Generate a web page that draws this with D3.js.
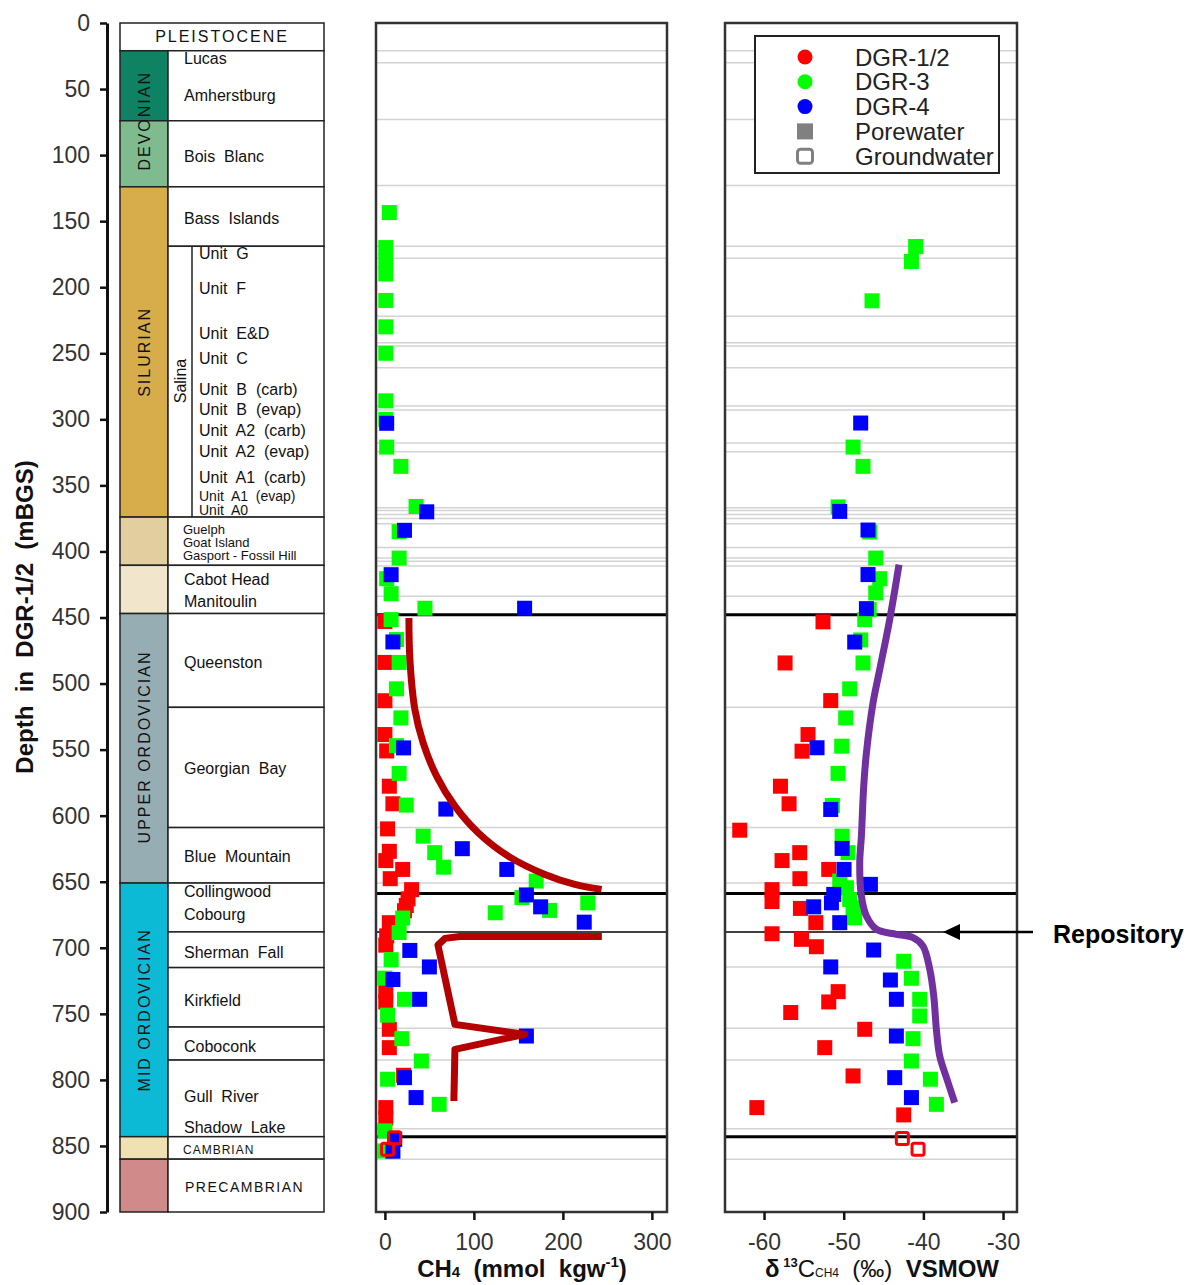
<!DOCTYPE html>
<html>
<head>
<meta charset="utf-8">
<script src="https://cdn.jsdelivr.net/npm/d3@7"></script>
<style>
  body { margin: 0; background: #fff; }
  text { font-family: "Liberation Sans", Arial, sans-serif; white-space: pre; }
</style>
</head>
<body>
<svg id="chart" width="1188" height="1285"></svg>
<script>
// ---- data ----
const depthTicks = [0, 50, 100, 150, 200, 250, 300, 350, 400, 450, 500, 550, 600, 650, 700, 750, 800, 850, 900];
const ch4Ticks = [0, 100, 200, 300];
const d13cTicks = [-60, -50, -40, -30];

// stratigraphic column (depth in m)
const eraTops    = [21, 74, 124, 374, 410.5, 447, 651, 843, 860];
const eraBottoms = [74, 124, 374, 410.5, 447, 651, 843, 860, 900];
const eraColors  = ["#0e8262", "#7fbb8f", "#d6ad4a", "#e3cea0", "#f1e5cc", "#96adb4", "#0dbad6", "#efe1b1", "#d08a8a"];
const eraNames   = ["DEVONIAN", "SILURIAN", "UPPER ORDOVICIAN", "MID ORDOVICIAN"];
const eraNameDepths = [74, 249, 548, 747];
const formationBounds = [21, 74, 124, 169, 374, 410.5, 447, 518, 609, 651, 688, 715, 760, 785, 843, 860, 900];
const formationNames = ["Lucas", "Amherstburg", "Bois  Blanc", "Bass  Islands", "Cabot Head", "Manitoulin",
  "Queenston", "Georgian  Bay", "Blue  Mountain", "Collingwood", "Cobourg", "Sherman  Fall", "Kirkfield",
  "Coboconk", "Gull  River", "Shadow  Lake"];
const formationDepths = [26.5, 54.5, 100.6, 147.5, 421.3, 438, 484, 564.3, 630.9, 657, 674.7, 703.2, 739.8, 774.4, 812.2, 835.9];
const smallNames = ["Guelph", "Goat Island", "Gasport - Fossil Hill"];
const smallDepths = [383.2, 393.3, 403];
const salinaUnits = ["Unit  G", "Unit  F", "Unit  E&D", "Unit  C", "Unit  B  (carb)", "Unit  B  (evap)",
  "Unit  A2  (carb)", "Unit  A2  (evap)", "Unit  A1  (carb)", "Unit  A1  (evap)", "Unit  A0"];
const salinaDepths = [174, 200.5, 234.5, 254, 277, 292.7, 307.9, 324.3, 344.2, 358.3, 368.6];

// boundaries shown in the data panels
const greyLines = [21, 30, 73, 123, 169, 178, 222, 242, 244.5, 261, 290, 293, 318, 324.5, 367, 369, 372, 375, 379,
  397, 405, 407.5, 411, 434, 518, 609, 651, 714.5, 761, 785, 837, 860];
const blackLines = [448, 659, 688, 843];

// CH4 (mmol/kgw) porewater: [depth, value]
const ch4Dgr12 = [[453, 0], [484, 0], [513, 0], [538.6, 0], [551, 2], [577.7, 5], [591, 9], [610, 3], [627, 5],
  [634, 1], [640.7, 20], [647.7, 6], [656, 30], [663, 26], [668, 24], [672, 22], [681, 5], [691, 2], [698, 1],
  [733, 1], [741, 1], [761.7, 5], [775.6, 5], [796.5, 21], [821, 1], [829, 1]];
const ch4Dgr3 = [[143.5, 5], [170, 1], [180, 1], [190, 1], [210, 1], [230, 1], [250, 1], [286, 1], [300, 1], [321, 2],
  [335.6, 18], [366, 35], [385, 16], [405, 16], [420.6, 2], [432, 7], [443, 45], [451.6, 7], [466.7, 13], [484, 16],
  [504, 13], [526, 18], [547, 13], [568, 16], [592, 24], [615.5, 43], [628, 56], [639, 66], [649.5, 170], [662, 154],
  [666, 228], [671.7, 185], [673.5, 124], [677.5, 20], [688.5, 16], [709, 7], [723, 0], [739, 22], [751, 3],
  [768.8, 19], [785.7, 41], [799.5, 3], [818.5, 61], [838.6, 0], [853.8, 0]];
const ch4Dgr4 = [[303, 2], [370, 47], [384, 22], [417.6, 7], [443, 157], [468.5, 9], [548.7, 21], [595, 68.5],
  [625, 87], [640.7, 137], [660, 159], [669, 175], [680.6, 224], [702, 28], [714.5, 50], [724, 9], [739, 39],
  [766.8, 159], [798.3, 22], [813.4, 35], [845, 11], [854, 9]];
const ch4Ground = [[843.8, 11], [852.5, 3]];

// d13C-CH4 (permil) porewater: [depth, value]
const d13Dgr12 = [[453.3, -52.6], [484.4, -57.36], [512.9, -51.63], [538.6, -54.48], [551.2, -55.23], [577.7, -57.94],
  [591, -56.86], [611, -63.05], [628, -55.52], [634, -57.74], [640.7, -51.88], [647.7, -55.5], [656, -59], [665, -59],
  [670.2, -55.43], [681, -53.5], [689.4, -59], [693.6, -55.3], [699.2, -53.43], [733.2, -50.7], [741, -51.88],
  [749, -56.65], [761.7, -47.36], [775.6, -52.38], [797, -48.83], [821, -60.9], [826.5, -42.47]];
const d13Dgr3 = [[169.2, -40.97], [180.5, -41.5], [210.3, -46.45], [321, -48.83], [335.6, -47.58], [366.3, -50.7],
  [385.3, -46.74], [405, -45.98], [420.6, -45.48], [431.4, -45.98], [444, -46.8], [451.6, -47.36], [467, -47.87],
  [484.4, -47.58], [504, -49.25], [526, -49.75], [547.4, -50.25], [568, -50.71], [592.3, -51.42], [615.5, -50.2],
  [628, -49.46], [649.5, -50.5], [654.6, -49.66], [663.4, -49.25], [669.7, -48.83], [677.3, -48.62], [710.2, -42.47],
  [723.1, -41.5], [739, -40.46], [751.6, -40.46], [768.8, -41.3], [785.7, -41.5], [799.5, -39.12], [818.5, -38.37]];
const d13Dgr4 = [[302.8, -47.87], [369.7, -50.5], [383.8, -46.95], [417.5, -46.95], [443.3, -47.15], [468.6, -48.62],
  [548.6, -53.35], [595.3, -51.63], [624.8, -50.2], [640.7, -49.96], [652, -46.65], [659.6, -51.25], [666, -51.54],
  [669, -53.77], [681, -50.5], [701.7, -46.24], [714.5, -51.63], [724.4, -44.14], [739, -43.39], [766.8, -43.39],
  [798.3, -43.6], [813.4, -41.5]];
const d13Ground = [[844.4, -42.64], [852.5, -40.67]];

// hand-drawn interpretation curves: [depth, value]
const ch4CurveUpper = [[450.3, 27], [481.8, 28.1], [519.7, 33.7], [544.9, 43], [570.1, 58.1], [592.8, 78.7],
  [612.9, 104.8], [630.6, 138.5], [644.5, 179.8], [652, 213.5], [655.8, 243.5]];
const ch4CurveLower = [[691.4, 243.8], [691.4, 84.3], [692.9, 67.4], [698, 59.6], [758, 78.7], [765.5, 157.3],
  [776.9, 78.7], [816, 77.5]];
const d13Curve = [[410, -43.06], [451.6, -44.23], [489.4, -45.48], [514.6, -46.32], [552.4, -47.15], [577.7, -47.49],
  [615.5, -47.78], [635.6, -47.99], [660.9, -47.78], [676, -47.15], [686, -45.9], [689.8, -43.39], [692.3, -41.3],
  [698.7, -40.05], [716.3, -39.2], [736.5, -38.7], [761.7, -38.37], [781.9, -37.95], [799.5, -37.04], [817.2, -36.07]];

const legendNames = ["DGR-1/2", "DGR-3", "DGR-4", "Porewater", "Groundwater"];

// ---- drawing ----
const svg = d3.select("#chart");
const y = d3.scaleLinear().domain([0, 900]).range([23, 1212]);
const xCh4 = d3.scaleLinear().domain([-10, 317]).range([376, 667]);
const xD13 = d3.scaleLinear().domain([-64.9, -28.25]).range([725, 1017]);
const sq = 15;

// depth axis
const yAxis = svg.append("g")
  .attr("transform", "translate(107,0)")
  .call(d3.axisLeft(y).tickValues(depthTicks).tickSize(7).tickSizeOuter(0).tickPadding(10)
    .tickFormat(d => String(d)));
yAxis.select(".domain").attr("stroke", "#111").attr("stroke-width", 3);
yAxis.selectAll(".tick line").attr("stroke", "#111").attr("stroke-width", 2.5);
yAxis.selectAll("text").attr("font-size", 23).attr("fill", "#333")
  .attr("font-family", "Liberation Sans, Arial, sans-serif");

svg.append("text")
  .attr("transform", "translate(33,617) rotate(-90)")
  .attr("text-anchor", "middle")
  .attr("font-size", 24).attr("font-weight", "bold").attr("fill", "#111")
  .text("Depth  in  DGR-1/2  (mBGS)");

// stratigraphic column
const colL = 120, eraR = 168, colR = 324, salX = 192;
const col = svg.append("g");
col.append("rect").attr("x", colL).attr("y", y(0)).attr("width", colR - colL).attr("height", y(21) - y(0))
  .attr("fill", "#fff").attr("stroke", "#222").attr("stroke-width", 1.5);
col.selectAll(".era").data(eraTops).enter().append("rect")
  .attr("x", colL).attr("y", d => y(d))
  .attr("width", eraR - colL)
  .attr("height", (d, i) => y(eraBottoms[i]) - y(d))
  .attr("fill", (d, i) => eraColors[i]).attr("stroke", "#222").attr("stroke-width", 1.5);
col.selectAll(".form").data(formationBounds.slice(0, -1)).enter().append("rect")
  .attr("x", eraR).attr("y", d => y(d))
  .attr("width", colR - eraR)
  .attr("height", (d, i) => y(formationBounds[i + 1]) - y(d))
  .attr("fill", "#fff").attr("stroke", "#222").attr("stroke-width", 1.5);
col.append("line").attr("x1", salX).attr("x2", salX).attr("y1", y(169)).attr("y2", y(374))
  .attr("stroke", "#222").attr("stroke-width", 1.5);

col.append("text").attr("x", (colL + colR) / 2).attr("y", y(10.5)).attr("dy", "0.35em")
  .attr("text-anchor", "middle").attr("font-size", 16).attr("letter-spacing", 2).attr("fill", "#111")
  .text("PLEISTOCENE");
col.selectAll(".eraName").data(eraNames).enter().append("text")
  .attr("transform", (d, i) => "translate(" + (eraR + colL) / 2 + "," + y(eraNameDepths[i]) + ") rotate(-90)")
  .attr("dy", "0.36em").attr("text-anchor", "middle")
  .attr("font-size", 16).attr("letter-spacing", 2).attr("fill", "#111")
  .text(d => d);
col.selectAll(".fName").data(formationNames).enter().append("text")
  .attr("x", 184).attr("y", (d, i) => y(formationDepths[i])).attr("dy", "0.36em")
  .attr("font-size", 16).attr("fill", "#111")
  .text(d => d);
col.selectAll(".sName").data(smallNames).enter().append("text")
  .attr("x", 183).attr("y", (d, i) => y(smallDepths[i])).attr("dy", "0.36em")
  .attr("font-size", 13).attr("fill", "#111")
  .text(d => d);
col.selectAll(".uName").data(salinaUnits).enter().append("text")
  .attr("x", 199).attr("y", (d, i) => y(salinaDepths[i])).attr("dy", "0.36em")
  .attr("font-size", (d, i) => i >= 9 ? 14 : 16).attr("fill", "#111")
  .text(d => d);
col.append("text")
  .attr("transform", "translate(180," + y(271) + ") rotate(-90)")
  .attr("dy", "0.36em").attr("text-anchor", "middle").attr("font-size", 16).attr("fill", "#111")
  .text("Salina");
col.append("text").attr("x", 183).attr("y", y(852.5)).attr("dy", "0.36em")
  .attr("font-size", 12).attr("letter-spacing", 1).attr("fill", "#111").text("CAMBRIAN");
col.append("text").attr("x", 185).attr("y", y(881)).attr("dy", "0.36em")
  .attr("font-size", 14).attr("letter-spacing", 1.5).attr("fill", "#111").text("PRECAMBRIAN");

// data panels
function drawPanel(x, ticks, series, ground, curves) {
  const [x0, x1] = x.range();
  const g = svg.append("g");
  g.selectAll(".grid").data(greyLines).enter().append("line")
    .attr("x1", x0).attr("x2", x1).attr("y1", d => y(d)).attr("y2", d => y(d))
    .attr("stroke", "#d3d3d3").attr("stroke-width", 1.5);
  g.selectAll(".bold").data(blackLines).enter().append("line")
    .attr("x1", x0).attr("x2", x1).attr("y1", d => y(d)).attr("y2", d => y(d))
    .attr("stroke", "#000").attr("stroke-width", d => d === 688 ? 1.5 : 3);

  series.forEach(s => {
    g.selectAll(null).data(s.data).enter().append("rect")
      .attr("x", d => x(d[1]) - sq / 2).attr("y", d => y(d[0]) - sq / 2)
      .attr("width", sq).attr("height", sq).attr("fill", s.color);
  });
  g.selectAll(null).data(ground).enter().append("rect")
    .attr("x", d => x(d[1]) - sq / 2 + 1.5).attr("y", d => y(d[0]) - sq / 2 + 1.5)
    .attr("width", sq - 3).attr("height", sq - 3).attr("rx", 2)
    .attr("fill", "none").attr("stroke", "#ff0000").attr("stroke-width", 3);

  curves.forEach(c => {
    g.append("path").datum(c.data)
      .attr("d", d3.line().x(d => x(d[1])).y(d => y(d[0])).curve(c.curve))
      .attr("fill", "none").attr("stroke", c.color).attr("stroke-width", 7)
      .attr("stroke-linejoin", "round");
  });

  g.append("rect").attr("x", x0).attr("y", y(0)).attr("width", x1 - x0).attr("height", y(900) - y(0))
    .attr("fill", "none").attr("stroke", "#333").attr("stroke-width", 2.5);

  const ax = g.append("g").attr("transform", "translate(0," + y(900) + ")")
    .call(d3.axisBottom(x).tickValues(ticks).tickSize(8).tickSizeOuter(0).tickPadding(14)
      .tickFormat(d => String(d)));
  ax.select(".domain").remove();
  ax.selectAll(".tick line").attr("stroke", "#111").attr("stroke-width", 2.5);
  ax.selectAll("text").attr("font-size", 23).attr("fill", "#333")
    .attr("font-family", "Liberation Sans, Arial, sans-serif");
  return g;
}

drawPanel(xCh4, ch4Ticks,
  [{data: ch4Dgr12, color: "#ff0000"}, {data: ch4Dgr3, color: "#00ff00"}, {data: ch4Dgr4, color: "#0000ff"}],
  ch4Ground,
  [{data: ch4CurveUpper, color: "#b50000", curve: d3.curveCatmullRom},
   {data: ch4CurveLower, color: "#b50000", curve: d3.curveLinear}]);

drawPanel(xD13, d13cTicks,
  [{data: d13Dgr12, color: "#ff0000"}, {data: d13Dgr3, color: "#00ff00"}, {data: d13Dgr4, color: "#0000ff"}],
  d13Ground,
  [{data: d13Curve, color: "#7030a0", curve: d3.curveCatmullRom}]);

// axis titles
const t1 = svg.append("text").attr("x", 522).attr("y", 1277).attr("text-anchor", "middle")
  .attr("font-size", 24).attr("font-weight", "bold").attr("fill", "#111");
t1.append("tspan").text("CH");
t1.append("tspan").attr("font-size", 15).text("4");
t1.append("tspan").text("  (mmol  kgw");
t1.append("tspan").attr("font-size", 15).attr("dy", -10).text("-1");
t1.append("tspan").attr("dy", 10).text(")");

const t2 = svg.append("text").attr("x", 882).attr("y", 1277).attr("text-anchor", "middle")
  .attr("font-size", 24).attr("font-weight", "bold").attr("fill", "#111");
t2.append("tspan").text("δ");
t2.append("tspan").attr("font-size", 13).attr("dy", -10).text(" 13");
t2.append("tspan").attr("dy", 10).attr("font-weight", "normal").text("C");
t2.append("tspan").attr("font-size", 12).attr("font-weight", "normal").text("CH4");
t2.append("tspan").attr("font-weight", "normal").text("  (‰)  ");
t2.append("tspan").text("VSMOW");

// legend
const lg = svg.append("g");
lg.append("rect").attr("x", 755).attr("y", 36).attr("width", 244).attr("height", 137)
  .attr("fill", "#fff").attr("stroke", "#222").attr("stroke-width", 2);
const legendColors = ["#ff0000", "#00ff00", "#0000ff"];
legendNames.forEach((n, i) => {
  const cy = 57 + i * 24.8;
  if (i < 3) {
    lg.append("circle").attr("cx", 805).attr("cy", cy).attr("r", 7.5).attr("fill", legendColors[i]);
  } else if (i === 3) {
    lg.append("rect").attr("x", 797).attr("y", cy - 8).attr("width", 16).attr("height", 16).attr("fill", "#808080");
  } else {
    lg.append("rect").attr("x", 797.5).attr("y", cy - 7).attr("width", 15).attr("height", 14).attr("rx", 3)
      .attr("fill", "none").attr("stroke", "#808080").attr("stroke-width", 3);
  }
  lg.append("text").attr("x", 855).attr("y", cy).attr("dy", "0.36em")
    .attr("font-size", 24).attr("fill", "#222").text(n);
});

// repository annotation
svg.append("line").attr("x1", 1033).attr("x2", 955).attr("y1", 932).attr("y2", 932)
  .attr("stroke", "#000").attr("stroke-width", 2.5);
svg.append("path").attr("d", "M943,932 L960,924 L960,940 Z").attr("fill", "#000");
svg.append("text").attr("x", 1053).attr("y", 943)
  .attr("font-family", "Lato, 'Open Sans', sans-serif")
  .attr("font-size", 25).attr("font-weight", "bold").attr("fill", "#000")
  .text("Repository");
</script>
</body>
</html>
